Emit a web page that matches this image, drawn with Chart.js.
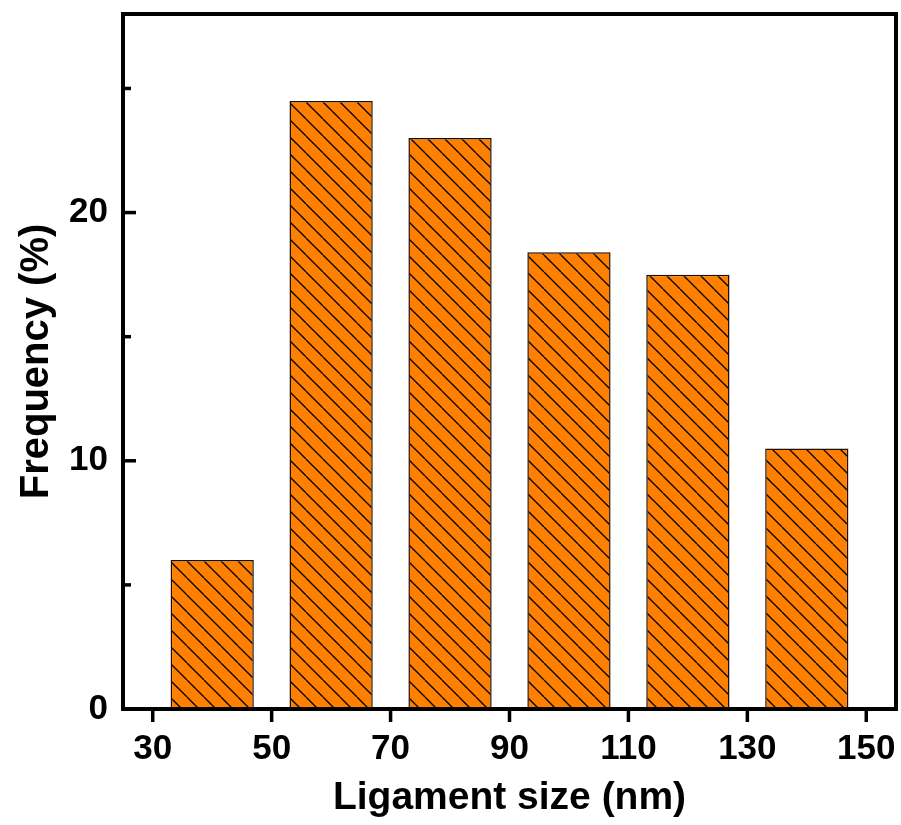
<!DOCTYPE html>
<html>
<head>
<meta charset="utf-8">
<script src="https://cdn.jsdelivr.net/npm/chart.js@4"></script>
<style>
  html, body { margin: 0; padding: 0; background: #fff; }
  #wrap { width: 901px; height: 825px; }
</style>
</head>
<body>
<div id="wrap"><canvas id="chart" width="901" height="825"></canvas></div>
<script>
// histogram data (bin centres in nm, frequency in %)
const sizeCenters = [40, 60, 80, 100, 120, 140];
const frequency = [6.0, 24.5, 23.0, 18.4, 17.5, 10.5];

// axis ticks
const xTickValues = [30, 50, 70, 90, 110, 130, 150];
const yMajorTicks = [0, 10, 20];
const yMinorTicks = [5, 15, 25];

const FONT_FAMILY = '"Liberation Sans", Arial, Helvetica, sans-serif';
const BAR_ORANGE = '#ff8000';

// hatch pattern: orange with "\" diagonal lines
function makeHatch() {
    const s = 17;
    const c = document.createElement('canvas');
    c.width = s;
    c.height = s;
    const g = c.getContext('2d');
    g.fillStyle = BAR_ORANGE;
    g.fillRect(0, 0, s, s);
    g.strokeStyle = '#000';
    g.lineWidth = 1.3;
    for (const off of [-s, 0, s]) {
        g.beginPath();
        g.moveTo(off, 0);
        g.lineTo(off + s, s);
        g.stroke();
    }
    return g.createPattern(c, 'repeat');
}

// frame + tick marks drawn from the chart's own scales
const framePlugin = {
    id: 'frame',
    afterDatasetsDraw(chart) {
        const { ctx, chartArea: a, scales } = chart;
        const x = scales.x, y = scales.y;
        ctx.save();
        ctx.strokeStyle = '#000';
        ctx.lineCap = 'butt';

        // y ticks, drawn inward
        ctx.lineWidth = 3.5;
        yMajorTicks.forEach(v => {
            const py = y.getPixelForValue(v);
            ctx.beginPath();
            ctx.moveTo(a.left, py);
            ctx.lineTo(a.left + 13, py);
            ctx.stroke();
        });
        yMinorTicks.forEach(v => {
            const py = y.getPixelForValue(v);
            ctx.beginPath();
            ctx.moveTo(a.left, py);
            ctx.lineTo(a.left + 8, py);
            ctx.stroke();
        });

        // x ticks, drawn outward
        xTickValues.forEach(v => {
            const px = x.getPixelForValue(v);
            ctx.beginPath();
            ctx.moveTo(px, a.bottom);
            ctx.lineTo(px, a.bottom + 13);
            ctx.stroke();
        });

        // box around plot
        ctx.lineWidth = 4;
        ctx.strokeRect(a.left, a.top, a.right - a.left, a.bottom - a.top);
        ctx.restore();
    }
};

const points = sizeCenters.map((c, i) => ({ x: c, y: frequency[i] }));

new Chart(document.getElementById('chart'), {
    type: 'bar',
    data: {
        datasets: [{
            data: points,
            backgroundColor: makeHatch(),
            borderColor: '#1e0e00',
            borderWidth: 1.5,
            barPercentage: 0.7,
            categoryPercentage: 1.0
        }]
    },
    options: {
        responsive: false,
        animation: false,
        events: [],
        layout: { padding: { left: 0, right: 5, top: 14, bottom: 0 } },
        plugins: {
            legend: { display: false },
            tooltip: { enabled: false }
        },
        scales: {
            x: {
                type: 'linear',
                offset: false,
                min: 25,
                max: 155,
                grid: { display: false, drawTicks: false, offset: false },
                border: { display: false },
                afterBuildTicks: s => { s.ticks = xTickValues.map(v => ({ value: v })); },
                afterFit: s => {
                    s.height = 116;
                    s.paddingLeft = 0;
                    s.paddingRight = 0;
                },
                ticks: {
                    color: '#000',
                    padding: 19,
                    maxRotation: 0,
                    autoSkip: false,
                    font: { family: FONT_FAMILY, size: 35, weight: 'bold' }
                },
                title: {
                    display: true,
                    text: 'Ligament size (nm)',
                    color: '#000',
                    padding: { top: 0, bottom: 3 },
                    font: { family: FONT_FAMILY, size: 39, weight: 'bold' }
                }
            },
            y: {
                min: 0,
                max: 28,
                grid: { display: false, drawTicks: false },
                border: { display: false },
                afterBuildTicks: s => { s.ticks = yMajorTicks.map(v => ({ value: v })); },
                afterFit: s => {
                    s.width = 123;
                    s.paddingTop = 0;
                    s.paddingBottom = 0;
                },
                ticks: {
                    color: '#000',
                    padding: 15,
                    font: { family: FONT_FAMILY, size: 35, weight: 'bold' }
                },
                title: {
                    display: true,
                    text: 'Frequency (%)',
                    color: '#000',
                    padding: { top: 13, bottom: 0 },
                    font: { family: FONT_FAMILY, size: 40, weight: 'bold' }
                }
            }
        }
    },
    plugins: [framePlugin]
});
</script>
</body>
</html>
